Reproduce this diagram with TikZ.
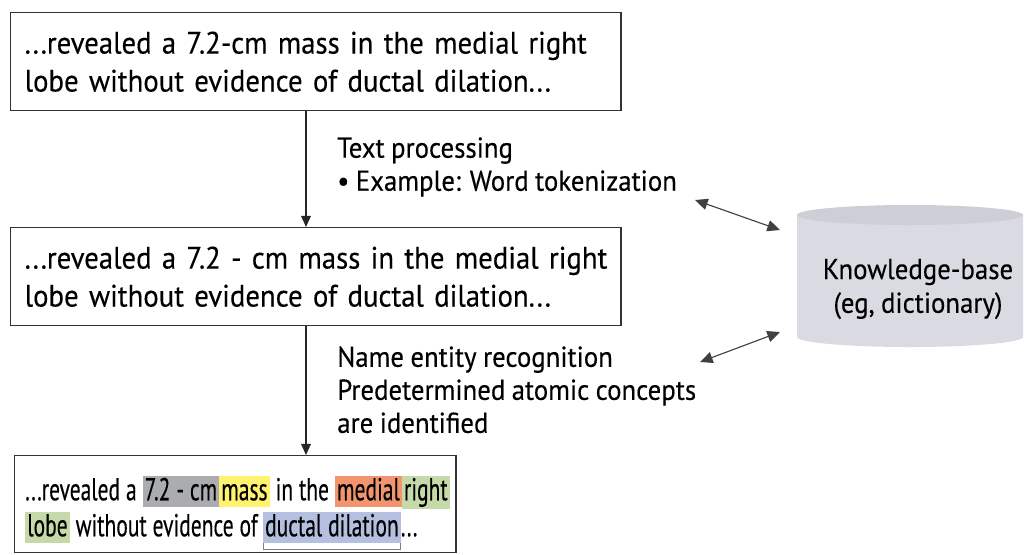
\documentclass[tikz,border=0pt]{standalone}
\usepackage{fontspec}
\setmainfont{PT Sans}[FakeStretch=0.93,WordSpace=0.9,FakeBold=0.3]
\newfontfamily\condfont[FakeStretch=0.68,FakeBold=0.3]{PT Sans}
\usetikzlibrary{positioning,arrows.meta}
\definecolor{hlGray}{HTML}{ABACB0}
\definecolor{hlYellow}{HTML}{FFF26E}
\definecolor{hlSalmon}{HTML}{F2956F}
\definecolor{hlGreen}{HTML}{C6D9A8}
\definecolor{hlBlue}{HTML}{B5C0E0}
\definecolor{kbBody}{HTML}{DADBE2}
\definecolor{kbTop}{HTML}{CDCED6}
\definecolor{boxLine}{HTML}{333333}
\newcommand{\condline}[1]{\mbox{\spaceskip=4.2pt\relax\xspaceskip=4.2pt\relax #1}}
\newcommand{\hlword}[2]{{\setlength{\fboxsep}{1.5pt}\colorbox{#1}{\rule[-3pt]{0pt}{18.5pt}#2}}}
\newcommand{\brackword}[2]{\setbox0\hbox{\hlword{#1}{#2}}\vtop{\copy0\nointerlineskip\hbox to\wd0{\color{gray}\vrule height5.5pt width.8pt\leaders\hrule height.8pt\hfill\vrule height5.5pt width.8pt}}}
\tikzset{
    reportBox/.style={
		draw=boxLine, line width=1pt, anchor=north west, align=left,
		minimum width=15.25cm, minimum height=2.45cm, text width=14.55cm, inner xsep=0.35cm,
		font=\fontsize{22}{27}\selectfont
	}
}
\tikzset{
    stepLabel/.style={
		anchor=north west, align=left, inner sep=0pt,
		font=\fontsize{20.5}{23.5}\selectfont
	}
}
\tikzset{
    flowArrow/.style={-{Triangle[length=8pt,width=7pt]}, line width=0.9pt, draw=black!85},
    kbArrow/.style={{Triangle[length=9pt,width=8pt]}-{Triangle[length=9pt,width=8pt]}, line width=0.8pt, draw=black!75}
}

\begin{document}
\begin{tikzpicture}[x=0.025cm,y=-0.025cm]
	\useasboundingbox (0,0) rectangle (1027,554);
	\node[reportBox] (raw) at (10,12) {\mbox{...revealed a 7.2-cm mass in the medial right}\\lobe without evidence of ductal dilation...};
	\node[reportBox] (tokens) at (10,227) {\mbox{...revealed a 7.2 - cm mass in the medial right}\\lobe without evidence of ductal dilation...};
	\node[reportBox, minimum width=11.025cm, minimum height=2.425cm, text width=10.5cm, inner xsep=0.2625cm, inner ysep=0pt,
		font=\condfont\fontsize{22.5}{25.6}\selectfont] (concepts) at (14,455)
		{\condline{\rule{0pt}{30pt}...revealed a \hlword{hlGray}{7.2 - cm}\hlword{hlYellow}{mass} in the \hlword{hlSalmon}{medial}\hlword{hlGreen}{right}}\\
		\condline{\hlword{hlGreen}{lobe} without evidence of\,\brackword{hlBlue}{ductal dilation}...}};
	\node[stepLabel] (tokenStep) at (337,137) {Text processing\\\textbullet\ Example: Word tokenization};
	\node[stepLabel] (nerStep) at (337,346) {Name entity recognition\\Predetermined atomic concepts\\are identified};
	% knowledge base cylinder
	\fill[kbBody] (797,215) -- (797,337) arc[start angle=180, end angle=360, x radius=2.825cm, y radius=0.25cm] -- (1023,215) -- cycle;
	\fill[kbTop] (910,215) ellipse[x radius=2.825cm, y radius=0.25cm];
	\node[align=center, font=\fontsize{20.5}{24}\selectfont] (kb) at (918,289) {Knowledge-base\\(eg, dictionary)};
	\coordinate (spine) at (306,0);
	\draw[flowArrow] (raw.south -| spine) -- (tokens.north -| spine);
	\draw[flowArrow] (tokens.south -| spine) -- (concepts.north -| spine);
	\coordinate (tokenEnd) at (695,200);
	\coordinate (kbUp) at (780,230);
	\coordinate (nerEnd) at (700,362);
	\coordinate (kbDown) at (780,332);
	\draw[kbArrow] (tokenEnd) -- (kbUp);
	\draw[kbArrow] (nerEnd) -- (kbDown);
\end{tikzpicture}
\end{document}
